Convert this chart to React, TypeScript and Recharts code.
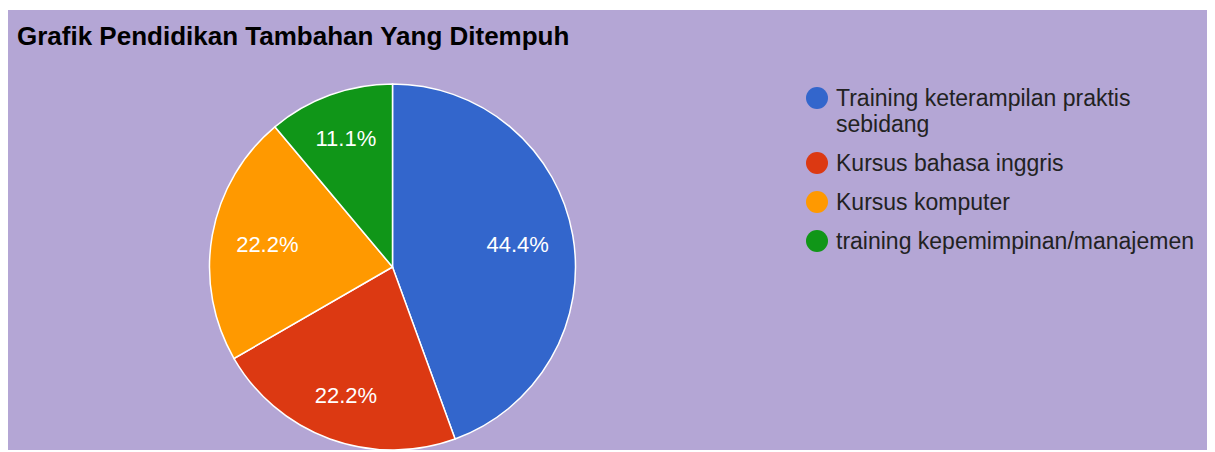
import { PieChart, Pie, Cell, Legend } from "recharts";

const categories = [
  "Training keterampilan praktis sebidang",
  "Kursus bahasa inggris",
  "Kursus komputer",
  "training kepemimpinan/manajemen",
];
const counts = [4, 2, 2, 1];
const colors = ["#3366cc", "#dc3912", "#ff9900", "#109618"];

const title = "Grafik Pendidikan Tambahan Yang Ditempuh";
const font = "Arial, 'Liberation Sans', sans-serif";

const data = categories.map((name, i) => ({ name, value: counts[i] }));
const total = counts.reduce((a, b) => a + b, 0);

const RADIAN = Math.PI / 180;

// labels sit a bit further out when the slice middle points up or down
function renderLabel(props: any) {
  const { cx, cy, midAngle, value } = props;
  const r = 125 + 12 * Math.abs(Math.sin(midAngle * RADIAN));
  const x = cx + r * Math.cos(-midAngle * RADIAN);
  const y = cy + r * Math.sin(-midAngle * RADIAN);
  return (
    <text
      x={x}
      y={y}
      fill="#ffffff"
      fontSize={22}
      fontFamily={font}
      textAnchor="middle"
      dominantBaseline="central"
    >
      {((value / total) * 100).toFixed(1)}%
    </text>
  );
}

function LegendList() {
  return (
    <div style={{ fontFamily: font, fontSize: 23, color: "#222222" }}>
      {data.map((d, i) => (
        <div
          key={d.name}
          style={{ display: "flex", alignItems: "flex-start", marginBottom: 13, lineHeight: "26px" }}
        >
          <span
            style={{
              width: 22,
              height: 22,
              borderRadius: "50%",
              background: colors[i],
              marginTop: 2,
              marginRight: 8,
              flexShrink: 0,
            }}
          />
          <span style={{ width: 385 }}>{d.name}</span>
        </div>
      ))}
    </div>
  );
}

export default function App() {
  return (
    <div
      style={{
        position: "relative",
        left: -1,
        top: 2,
        width: 1206,
        height: 442,
        background: "#b4a6d5",
      }}
    >
      <div
        style={{
          position: "absolute",
          left: 10,
          top: 13,
          fontFamily: font,
          fontWeight: "bold",
          fontSize: 26,
          lineHeight: "26px",
          color: "#000000",
        }}
      >
        {title}
      </div>
      <PieChart width={1206} height={442} margin={{ top: 0, right: 0, bottom: 0, left: 0 }}>
        <Pie
          data={data}
          dataKey="value"
          nameKey="name"
          cx={385.5}
          cy={257}
          outerRadius={183}
          startAngle={90}
          endAngle={-270}
          stroke="#ffffff"
          strokeWidth={1.5}
          label={renderLabel}
          labelLine={false}
          isAnimationActive={false}
        >
          {data.map((d, i) => (
            <Cell key={d.name} fill={colors[i]} />
          ))}
        </Pie>
        <Legend
          layout="vertical"
          align="right"
          verticalAlign="top"
          content={() => <LegendList />}
          wrapperStyle={{ left: 799, top: 75, right: "auto", width: 420 }}
        />
      </PieChart>
    </div>
  );
}
